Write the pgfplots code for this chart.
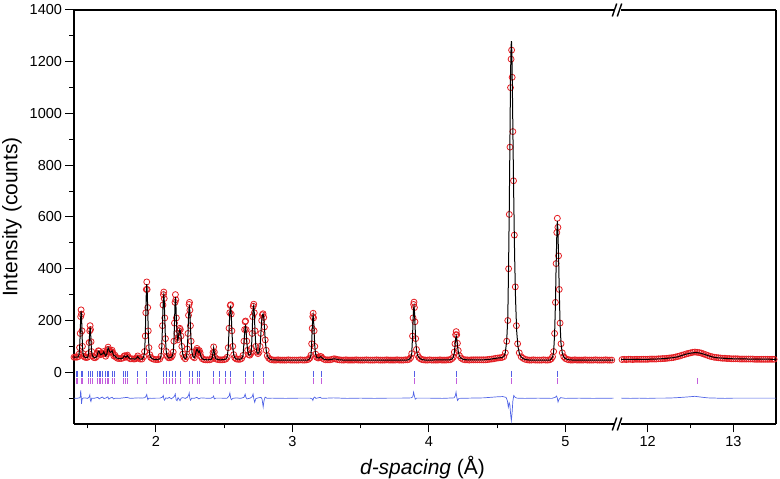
\documentclass[border=0pt]{standalone}
\usepackage{fontspec}
\setmainfont{Liberation Sans}
\usepackage{pgfplots}
\pgfplotsset{compat=1.18}
\definecolor{obsred}{RGB}{228,30,35}
\definecolor{diffblue}{RGB}{80,100,230}
\definecolor{tickblue}{RGB}{85,95,230}
\definecolor{tickmag}{RGB}{195,95,220}
\pgfplotsset{
  common/.style={
    scale only axis, height=414pt, ymin=-200, ymax=1400,
    axis x line*=bottom,
    axis line style={line width=1.1pt, black},
    tick align=outside, major tick length=8.5pt, minor tick length=4.5pt,
    tick style={line width=1pt, black},
    ticklabel style={font=\fontsize{14.5}{17}\selectfont},
    /pgf/number format/assume math mode=true,
    /pgf/number format/1000 sep={},
    clip mode=individual,
  },
  obs/.style={only marks, mark=o, mark size=3pt, obsred, mark options={line width=0.8pt}},
  calc/.style={black, line width=1.0pt},
  diff/.style={diffblue, line width=0.7pt},
  trow/.style={only marks, mark=|, mark size=2.9pt, mark options={line width=0.7pt}},
}
\begin{document}
\begin{tikzpicture}[x=1pt,y=1pt]
\useasboundingbox (0,0) rectangle (780,479);
% ---------------- left panel ----------------
\begin{axis}[common,
  at={(74pt,55pt)}, anchor=south west, width=539.5pt,
  xmin=1.4, xmax=5.3524,
  axis y line*=left,
  xtick={2,3,4,5}, minor xtick={1.5,2.5,3.5,4.5},
  ytick={0,200,...,1400}, minor ytick={-100,100,...,1300},
  xlabel={\textit{d-spacing} (Å)},
  xlabel style={at={(axis description cs:0.646,-0.104)}, anchor=center, font=\fontsize{21}{25}\selectfont},
  ylabel={Intensity (counts)},
  ylabel style={at={(axis description cs:-0.1148,0.5)}, anchor=center, font=\fontsize{21}{25}\selectfont},
]
\draw[line width=1.1pt] (rel axis cs:0,1) -- (rel axis cs:1,1);
% observed
\addplot[obs] coordinates {
(1.400,58)(1.410,59)(1.420,58)(1.430,60)(1.437,70)(1.441,95)(1.4455,150)(1.449,215)(1.452,241)(1.455,225)(1.4585,160)(1.462,100)(1.466,72)(1.472,62)(1.480,58)(1.490,57)(1.500,58)(1.506,72)(1.511,115)(1.515,160)(1.518,180)(1.521,165)(1.525,118)(1.529,80)(1.535,63)(1.545,57)(1.555,56)(1.565,60)(1.572,72)(1.578,83)(1.584,82)(1.590,72)(1.597,68)(1.605,73)(1.611,72)(1.618,80)(1.625,72)(1.632,62)(1.640,70)(1.646,88)(1.650,97)(1.655,88)(1.662,80)(1.668,78)(1.674,80)(1.679,85)(1.685,74)(1.692,63)(1.700,66)(1.708,58)(1.718,54)(1.730,53)(1.745,53)(1.758,55)(1.766,62)(1.772,64)(1.780,58)(1.786,62)(1.792,66)(1.800,57)(1.812,52)(1.825,52)(1.840,51)(1.852,52)(1.860,56)(1.867,63)(1.874,55)(1.885,51)(1.898,51)(1.910,60)(1.917,80)(1.922,140)(1.926,230)(1.930,320)(1.933,349)(1.936,320)(1.940,250)(1.944,160)(1.949,95)(1.955,68)(1.962,57)(1.972,53)(1.985,50)(2.000,49)(2.015,49)(2.028,51)(2.037,62)(2.043,100)(2.048,180)(2.052,260)(2.055,300)(2.058,310)(2.061,285)(2.065,210)(2.070,130)(2.076,80)(2.083,62)(2.092,56)(2.102,56)(2.112,58)(2.120,64)(2.127,78)(2.132,120)(2.136,190)(2.140,270)(2.143,300)(2.146,280)(2.150,210)(2.155,150)(2.160,125)(2.165,135)(2.170,160)(2.175,170)(2.179,165)(2.184,140)(2.190,100)(2.197,70)(2.205,58)(2.215,52)(2.224,60)(2.230,90)(2.235,150)(2.239,220)(2.243,262)(2.246,270)(2.249,240)(2.253,180)(2.258,120)(2.264,78)(2.272,60)(2.282,56)(2.290,70)(2.296,85)(2.301,92)(2.307,84)(2.313,78)(2.318,84)(2.324,75)(2.331,60)(2.340,52)(2.352,49)(2.365,48)(2.378,48)(2.392,48)(2.405,50)(2.413,58)(2.418,76)(2.423,98)(2.428,78)(2.434,57)(2.442,51)(2.455,49)(2.470,48)(2.485,48)(2.500,49)(2.512,51)(2.522,58)(2.530,95)(2.536,170)(2.541,230)(2.545,258)(2.548,261)(2.552,225)(2.557,160)(2.563,100)(2.570,68)(2.578,56)(2.590,51)(2.603,50)(2.616,50)(2.628,53)(2.638,65)(2.645,120)(2.650,165)(2.654,195)(2.657,198)(2.661,165)(2.666,120)(2.672,85)(2.680,68)(2.688,66)(2.695,72)(2.700,92)(2.705,150)(2.709,215)(2.713,255)(2.717,263)(2.721,230)(2.726,160)(2.732,100)(2.740,78)(2.748,72)(2.756,78)(2.763,100)(2.769,150)(2.775,200)(2.780,222)(2.785,226)(2.790,212)(2.795,175)(2.801,125)(2.808,85)(2.816,64)(2.826,55)(2.838,50)(2.850,48)(2.865,47)(2.880,47)(2.895,48)(2.910,47)(2.925,47)(2.940,47)(2.955,47)(2.970,48)(2.985,47)(3.000,47)(3.015,47)(3.030,47)(3.045,47)(3.060,48)(3.075,47)(3.090,47)(3.105,48)(3.118,50)(3.128,55)(3.136,66)(3.141,110)(3.145,170)(3.149,215)(3.152,228)(3.155,210)(3.159,160)(3.164,100)(3.170,70)(3.178,58)(3.188,55)(3.197,56)(3.205,61)(3.212,60)(3.220,54)(3.232,50)(3.245,48)(3.260,48)(3.275,48)(3.290,50)(3.305,52)(3.318,51)(3.332,49)(3.347,48)(3.362,47)(3.377,47)(3.392,48)(3.407,47)(3.422,47)(3.437,47)(3.452,47)(3.467,48)(3.482,47)(3.497,47)(3.512,47)(3.527,47)(3.542,48)(3.557,47)(3.572,47)(3.587,47)(3.602,47)(3.617,48)(3.632,47)(3.647,47)(3.662,47)(3.677,47)(3.692,48)(3.707,47)(3.722,47)(3.737,47)(3.752,47)(3.767,48)(3.782,47)(3.797,47)(3.812,47)(3.827,48)(3.842,48)(3.855,50)(3.866,56)(3.874,72)(3.880,140)(3.884,210)(3.888,262)(3.891,271)(3.894,250)(3.898,195)(3.903,130)(3.909,88)(3.917,66)(3.927,57)(3.938,52)(3.950,49)(3.963,48)(3.976,47)(3.991,47)(4.006,48)(4.021,47)(4.036,47)(4.051,47)(4.066,47)(4.081,48)(4.096,47)(4.111,47)(4.126,47)(4.141,48)(4.155,48)(4.168,52)(4.178,58)(4.186,78)(4.191,110)(4.196,145)(4.200,157)(4.204,145)(4.209,112)(4.215,84)(4.224,64)(4.236,55)(4.250,50)(4.265,48)(4.280,48)(4.295,47)(4.310,48)(4.325,48)(4.340,48)(4.355,48)(4.370,48)(4.385,48)(4.400,48)(4.415,48)(4.430,49)(4.445,50)(4.460,51)(4.475,52)(4.490,54)(4.505,55)(4.520,56)(4.535,57)(4.548,60)(4.560,75)(4.570,120)(4.578,200)(4.584,400)(4.589,610)(4.594,870)(4.598,1100)(4.602,1210)(4.606,1245)(4.610,1140)(4.615,930)(4.620,740)(4.626,530)(4.633,330)(4.641,180)(4.650,110)(4.662,75)(4.676,60)(4.690,54)(4.705,50)(4.720,48)(4.735,47)(4.750,47)(4.765,48)(4.780,47)(4.795,47)(4.810,47)(4.825,47)(4.840,48)(4.855,47)(4.870,47)(4.885,48)(4.897,52)(4.906,60)(4.914,80)(4.921,150)(4.927,270)(4.932,420)(4.937,540)(4.941,595)(4.945,560)(4.950,450)(4.955,320)(4.961,190)(4.968,110)(4.977,75)(4.988,60)(5.000,53)(5.013,50)(5.026,48)(5.040,47)(5.055,47)(5.070,48)(5.085,47)(5.100,47)(5.115,47)(5.130,47)(5.145,48)(5.160,47)(5.175,47)(5.190,47)(5.205,47)(5.220,48)(5.235,47)(5.250,47)(5.265,47)(5.280,47)(5.295,48)(5.310,47)(5.325,47)(5.340,47)
};
% calculated
\addplot[calc] coordinates {
(1.400,58)(1.430,59)(1.437,68)(1.441,92)(1.4455,148)(1.449,210)(1.452,236)(1.455,222)(1.4585,158)(1.462,100)(1.466,72)(1.472,62)(1.480,58)(1.500,57)(1.506,70)(1.511,112)(1.515,155)(1.518,176)(1.521,160)(1.525,115)(1.529,80)(1.535,63)(1.550,56)(1.565,59)(1.572,70)(1.578,82)(1.584,81)(1.590,72)(1.597,67)(1.605,71)(1.611,71)(1.618,79)(1.625,71)(1.632,63)(1.640,69)(1.646,86)(1.650,95)(1.655,88)(1.662,79)(1.668,77)(1.674,79)(1.679,83)(1.685,73)(1.692,63)(1.700,64)(1.708,57)(1.720,54)(1.750,53)(1.758,55)(1.766,61)(1.772,63)(1.780,58)(1.786,61)(1.792,64)(1.800,57)(1.812,52)(1.850,51)(1.860,56)(1.867,61)(1.874,55)(1.885,51)(1.900,51)(1.910,59)(1.917,78)(1.922,135)(1.926,225)(1.930,312)(1.933,340)(1.936,318)(1.940,245)(1.944,158)(1.949,94)(1.955,67)(1.962,57)(1.972,53)(1.985,50)(2.000,49)(2.028,51)(2.037,61)(2.043,98)(2.048,175)(2.052,252)(2.055,290)(2.058,300)(2.061,280)(2.065,205)(2.070,128)(2.076,80)(2.083,62)(2.092,56)(2.102,56)(2.112,58)(2.120,63)(2.127,77)(2.132,118)(2.136,185)(2.140,262)(2.143,290)(2.146,272)(2.150,205)(2.155,148)(2.160,124)(2.165,133)(2.170,156)(2.175,165)(2.179,160)(2.184,138)(2.190,99)(2.197,70)(2.205,58)(2.215,52)(2.224,59)(2.230,88)(2.235,146)(2.239,212)(2.243,250)(2.246,255)(2.249,232)(2.253,175)(2.258,118)(2.264,77)(2.272,60)(2.282,56)(2.290,69)(2.296,84)(2.301,90)(2.307,83)(2.313,77)(2.318,82)(2.324,74)(2.331,60)(2.340,52)(2.352,49)(2.380,48)(2.405,50)(2.413,57)(2.418,75)(2.423,95)(2.428,77)(2.434,57)(2.442,51)(2.470,48)(2.500,49)(2.512,51)(2.522,58)(2.530,93)(2.536,165)(2.541,225)(2.545,252)(2.548,255)(2.552,222)(2.557,158)(2.563,99)(2.570,68)(2.578,56)(2.590,51)(2.616,50)(2.628,53)(2.638,64)(2.645,112)(2.650,152)(2.654,176)(2.657,180)(2.661,158)(2.666,116)(2.672,84)(2.680,68)(2.688,66)(2.695,72)(2.700,90)(2.705,148)(2.709,210)(2.713,250)(2.717,258)(2.721,228)(2.726,158)(2.732,100)(2.740,78)(2.748,72)(2.756,78)(2.763,100)(2.769,148)(2.775,198)(2.780,220)(2.785,225)(2.790,212)(2.795,175)(2.801,125)(2.808,85)(2.816,64)(2.826,55)(2.838,50)(2.850,48)(2.900,47)(3.110,47)(3.118,49)(3.128,54)(3.136,65)(3.141,108)(3.145,165)(3.149,208)(3.152,220)(3.155,204)(3.159,158)(3.164,100)(3.170,70)(3.178,58)(3.188,55)(3.197,56)(3.205,60)(3.212,59)(3.220,54)(3.232,50)(3.260,48)(3.290,50)(3.305,52)(3.318,51)(3.340,48)(3.380,47)(3.840,47)(3.855,50)(3.866,56)(3.874,70)(3.880,135)(3.884,200)(3.888,245)(3.891,255)(3.894,238)(3.898,188)(3.903,127)(3.909,86)(3.917,65)(3.927,57)(3.938,52)(3.950,49)(3.976,47)(4.150,48)(4.168,51)(4.178,57)(4.186,74)(4.191,102)(4.196,130)(4.200,140)(4.204,130)(4.209,104)(4.215,80)(4.224,62)(4.236,54)(4.250,50)(4.280,48)(4.400,48)(4.445,50)(4.490,54)(4.535,57)(4.548,60)(4.560,76)(4.570,122)(4.578,210)(4.584,420)(4.589,640)(4.594,910)(4.598,1140)(4.602,1260)(4.605,1280)(4.608,1230)(4.612,1080)(4.617,860)(4.622,660)(4.628,450)(4.635,280)(4.643,160)(4.652,100)(4.664,70)(4.678,58)(4.692,52)(4.710,49)(4.740,47)(4.885,47)(4.897,51)(4.906,59)(4.914,80)(4.921,148)(4.927,265)(4.932,410)(4.937,530)(4.941,585)(4.945,550)(4.950,445)(4.955,315)(4.961,188)(4.968,110)(4.977,75)(4.988,59)(5.000,53)(5.013,50)(5.030,48)(5.060,47)(5.360,47)
};
% difference
\addplot[diff] coordinates {
(1.400,-100)(1.420,-101)(1.440,-99)(1.446,-96)(1.449,-70)(1.452,-88)(1.455,-122)(1.459,-104)(1.465,-100)(1.480,-99)(1.500,-101)(1.512,-95)(1.516,-88)(1.520,-108)(1.524,-113)(1.530,-100)(1.545,-101)(1.560,-99)(1.575,-97)(1.585,-103)(1.595,-99)(1.608,-96)(1.620,-102)(1.635,-99)(1.648,-95)(1.655,-104)(1.668,-99)(1.680,-97)(1.690,-103)(1.705,-100)(1.730,-101)(1.760,-99)(1.790,-97)(1.810,-101)(1.840,-100)(1.870,-99)(1.900,-100)(1.920,-98)(1.928,-92)(1.933,-86)(1.937,-98)(1.941,-106)(1.948,-100)(1.970,-101)(2.000,-100)(2.030,-100)(2.048,-96)(2.054,-90)(2.059,-104)(2.064,-108)(2.072,-99)(2.085,-101)(2.100,-97)(2.112,-103)(2.125,-98)(2.136,-92)(2.142,-84)(2.148,-106)(2.155,-110)(2.162,-98)(2.170,-104)(2.177,-110)(2.185,-100)(2.198,-98)(2.215,-101)(2.230,-97)(2.240,-88)(2.244,-80)(2.249,-102)(2.254,-108)(2.262,-100)(2.280,-101)(2.300,-97)(2.315,-103)(2.330,-99)(2.360,-100)(2.400,-101)(2.418,-96)(2.423,-92)(2.428,-103)(2.440,-100)(2.480,-100)(2.520,-101)(2.536,-92)(2.542,-80)(2.548,-100)(2.553,-106)(2.562,-101)(2.590,-99)(2.620,-101)(2.645,-97)(2.654,-85)(2.660,-98)(2.668,-103)(2.690,-100)(2.705,-95)(2.712,-84)(2.718,-104)(2.724,-116)(2.732,-102)(2.750,-99)(2.770,-97)(2.778,-104)(2.786,-134)(2.792,-110)(2.800,-96)(2.815,-101)(2.850,-100)(2.950,-101)(3.050,-100)(3.130,-100)(3.145,-103)(3.150,-109)(3.156,-99)(3.163,-96)(3.172,-101)(3.205,-97)(3.215,-101)(3.300,-99)(3.400,-101)(3.500,-100)(3.600,-101)(3.700,-100)(3.800,-100)(3.870,-99)(3.882,-95)(3.888,-77)(3.893,-90)(3.900,-104)(3.910,-100)(4.000,-100)(4.100,-101)(4.185,-99)(4.194,-90)(4.199,-77)(4.204,-96)(4.210,-109)(4.220,-101)(4.300,-100)(4.400,-99)(4.500,-95)(4.540,-94)(4.565,-97)(4.575,-110)(4.582,-135)(4.588,-118)(4.593,-125)(4.600,-170)(4.604,-187)(4.609,-160)(4.615,-112)(4.622,-90)(4.630,-96)(4.645,-100)(4.700,-101)(4.800,-100)(4.900,-101)(4.925,-97)(4.935,-92)(4.941,-100)(4.946,-115)(4.952,-106)(4.965,-98)(5.000,-101)(5.100,-100)(5.200,-101)(5.360,-100)
};
% reflection markers
\addplot[trow, tickblue] coordinates {
(1.415,-6)(1.428,-6)(1.452,-6)(1.462,-6)(1.503,-6)(1.518,-6)(1.532,-6)(1.571,-6)(1.584,-6)(1.596,-6)(1.610,-6)(1.628,-6)(1.643,-6)(1.654,-6)(1.679,-6)(1.694,-6)(1.762,-6)(1.777,-6)(1.790,-6)(1.867,-6)(1.933,-6)(2.057,-6)(2.079,-6)(2.099,-6)(2.119,-6)(2.143,-6)(2.177,-6)(2.245,-6)(2.265,-6)(2.306,-6)(2.319,-6)(2.423,-6)(2.465,-6)(2.507,-6)(2.546,-6)(2.656,-6)(2.716,-6)(2.785,-6)(3.152,-6)(3.210,-6)(3.890,-6)(4.200,-6)(4.604,-6)(4.941,-6)
};
\addplot[trow, tickmag] coordinates {
(1.415,-35)(1.428,-35)(1.452,-35)(1.462,-35)(1.503,-35)(1.518,-35)(1.532,-35)(1.571,-35)(1.584,-35)(1.596,-35)(1.610,-35)(1.628,-35)(1.643,-35)(1.654,-35)(1.679,-35)(1.694,-35)(1.762,-35)(1.777,-35)(1.790,-35)(1.867,-35)(1.933,-35)(2.057,-35)(2.079,-35)(2.099,-35)(2.119,-35)(2.143,-35)(2.177,-35)(2.245,-35)(2.265,-35)(2.306,-35)(2.319,-35)(2.423,-35)(2.465,-35)(2.507,-35)(2.546,-35)(2.656,-35)(2.716,-35)(2.785,-35)(3.152,-35)(3.210,-35)(3.890,-35)(4.200,-35)(4.604,-35)(4.941,-35)
};
\end{axis}
% ---------------- right panel ----------------
\begin{axis}[common,
  at={(621pt,55pt)}, anchor=south west, width=155pt,
  xmin=11.688, xmax=13.4967,
  axis y line*=right, ytick=\empty, minor ytick={},
  xtick={12,13}, minor xtick={12.5},
]
\draw[line width=1.1pt] (rel axis cs:0,1) -- (rel axis cs:1,1);
\addplot[obs] coordinates {
(11.700,49)(11.725,50)(11.750,49)(11.775,50)(11.800,50)(11.825,49)(11.850,50)(11.875,50)(11.900,50)(11.925,50)(11.950,50)(11.975,50)(12.000,50)(12.025,51)(12.050,51)(12.075,51)(12.100,51)(12.125,52)(12.150,52)(12.175,53)(12.200,53)(12.225,54)(12.250,55)(12.275,56)(12.300,57)(12.325,59)(12.350,61)(12.375,63)(12.400,66)(12.425,68)(12.450,71)(12.475,73)(12.500,75)(12.525,77)(12.550,78)(12.575,77)(12.600,76)(12.625,74)(12.650,71)(12.675,68)(12.700,65)(12.725,62)(12.750,60)(12.775,58)(12.800,57)(12.825,56)(12.850,55)(12.875,54)(12.900,54)(12.925,53)(12.950,53)(12.975,52)(13.000,52)(13.025,52)(13.050,52)(13.075,51)(13.100,51)(13.125,51)(13.150,51)(13.175,51)(13.200,51)(13.225,51)(13.250,50)(13.275,50)(13.300,50)(13.325,50)(13.350,50)(13.375,50)(13.400,50)(13.425,50)(13.450,50)(13.475,50)(13.500,50)
};
\addplot[calc] coordinates {
(11.688,49.5)(12.000,50)(12.100,51)(12.200,53)(12.300,56.5)(12.350,60)(12.400,65)(12.450,70)(12.500,74)(12.550,76)(12.600,75)(12.650,70.5)(12.700,64.5)(12.750,59.5)(12.800,56.5)(12.900,53.5)(13.000,52)(13.200,51)(13.500,50)
};
\addplot[diff] coordinates {
(11.688,-100)(11.800,-101)(11.900,-100)(12.000,-101)(12.100,-100)(12.200,-100)(12.300,-99)(12.400,-97)(12.480,-95)(12.550,-93)(12.620,-96)(12.700,-99)(12.800,-100)(12.900,-101)(13.000,-100)(13.200,-100)(13.500,-100)
};
\addplot[trow, tickmag] coordinates {(12.575,-35)};
\end{axis}
% axis-break marks
\foreach \yy in {469,55}{
  \draw[line width=1.4pt] (612.3,\yy-6.5) -- (616.7,\yy+6.5);
  \draw[line width=1.4pt] (617.3,\yy-6.5) -- (621.7,\yy+6.5);
}
\end{tikzpicture}
\end{document}
